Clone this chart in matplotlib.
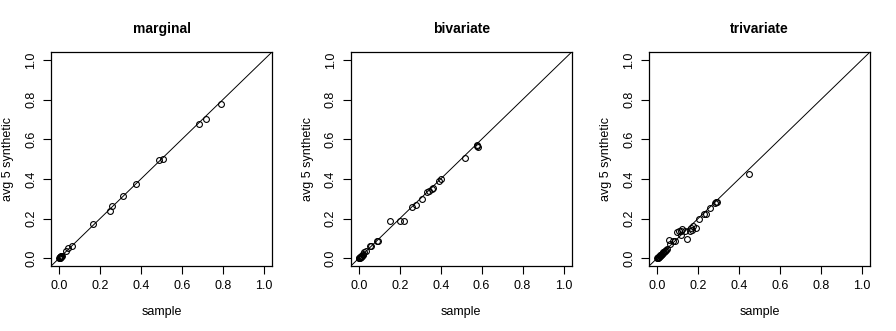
import numpy as np
import matplotlib.pyplot as plt

plt.rcParams['font.family'] = ['Liberation Sans', 'DejaVu Sans']

# values: (sample, avg 5 synthetic)
marg_x = [0.0, 0.002, 0.004, 0.006, 0.008, 0.01, 0.012, 0.005, 0.003, 0.009,
          0.033, 0.043, 0.062, 0.166, 0.248, 0.259, 0.313, 0.373,
          0.489, 0.507, 0.683, 0.717, 0.793]
marg_y = [0.0, 0.003, 0.002, 0.007, 0.006, 0.011, 0.013, 0.008, 0.005, 0.01,
          0.034, 0.049, 0.064, 0.174, 0.240, 0.261, 0.315, 0.372,
          0.497, 0.501, 0.677, 0.702, 0.777]

biv_x = [0.0, 0.002, 0.004, 0.006, 0.008, 0.01, 0.012, 0.015, 0.018, 0.02,
         0.026, 0.034, 0.053, 0.059, 0.087, 0.093, 0.152, 0.201, 0.220,
         0.258, 0.281, 0.308, 0.335, 0.341, 0.355, 0.361, 0.390, 0.400,
         0.519, 0.575, 0.578, 0.580]
biv_y = [0.0, 0.001, 0.003, 0.005, 0.007, 0.008, 0.011, 0.013, 0.016, 0.019,
         0.033, 0.038, 0.062, 0.062, 0.085, 0.088, 0.186, 0.186, 0.186,
         0.260, 0.270, 0.300, 0.335, 0.340, 0.350, 0.353, 0.390, 0.397,
         0.507, 0.570, 0.567, 0.562]

tri_x = [0.0, 0.002, 0.004, 0.006, 0.008, 0.01, 0.012, 0.014, 0.016, 0.018,
         0.02, 0.022, 0.025, 0.028, 0.03, 0.033, 0.036, 0.04, 0.043, 0.046,
         0.059, 0.065, 0.075, 0.087, 0.095, 0.108, 0.115, 0.116, 0.123,
         0.134, 0.144, 0.160, 0.164, 0.169, 0.173, 0.188, 0.206, 0.229,
         0.237, 0.260, 0.285, 0.288, 0.290, 0.447]
tri_y = [0.0, 0.001, 0.003, 0.004, 0.007, 0.008, 0.01, 0.012, 0.015, 0.016,
         0.018, 0.021, 0.023, 0.026, 0.029, 0.031, 0.035, 0.038, 0.041, 0.044,
         0.090, 0.072, 0.085, 0.085, 0.131, 0.136, 0.136, 0.116, 0.147,
         0.136, 0.097, 0.136, 0.151, 0.141, 0.162, 0.151, 0.196, 0.221,
         0.224, 0.251, 0.280, 0.284, 0.285, 0.427]

titles = ['marginal', 'bivariate', 'trivariate']
data = [(marg_x, marg_y), (biv_x, biv_y), (tri_x, tri_y)]
lefts = [0.0569, 0.3914, 0.7243]
ticks = [0.0, 0.2, 0.4, 0.6, 0.8, 1.0]

fig = plt.figure(figsize=(8.96, 3.31), dpi=100)
for left, title, (x, y) in zip(lefts, titles, data):
    ax = fig.add_axes([left, 0.196, 0.2467, 0.647])
    ax.axline((0, 0), slope=1, color='black', lw=0.7)
    ax.plot(x, y, 'o', mfc='none', mec='black', ms=4.2, mew=0.8)
    ax.set_xlim(-0.04, 1.04)
    ax.set_ylim(-0.04, 1.04)
    ax.set_xticks(ticks)
    ax.set_yticks(ticks)
    ax.set_xticklabels(['%.1f' % t for t in ticks], fontsize=9)
    ax.set_yticklabels(['%.1f' % t for t in ticks], fontsize=9,
                       rotation=90, va='center')
    ax.tick_params(direction='out', length=6, width=0.8, pad=4)
    for s in ax.spines.values():
        s.set_linewidth(0.9)
    ax.set_title(title, fontsize=10, fontweight='bold', pad=14)
    ax.set_xlabel('sample', fontsize=9, labelpad=10)
    ax.set_ylabel('avg 5 synthetic', fontsize=9, labelpad=8)

fig.savefig('out.png', dpi=100)
